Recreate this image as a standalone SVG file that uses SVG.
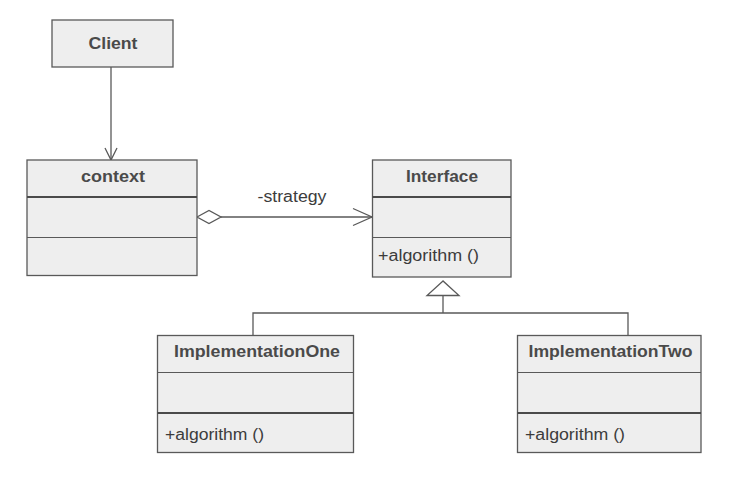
<svg xmlns="http://www.w3.org/2000/svg" width="737" height="478" viewBox="0 0 737 478">
<defs>
<style>
.box{fill:#eeeeee;stroke:#595959;stroke-width:1.3}
.thin{stroke:#595959;stroke-width:1.2}
.thick{stroke:#4a4a4a;stroke-width:2}
.hdr{font-family:"Liberation Sans",Arial,sans-serif;font-weight:bold;font-size:16px;fill:#4a4a4a;text-anchor:middle}
.op{font-family:"Liberation Sans",Arial,sans-serif;font-size:16px;fill:#3c3c3c}
.lbl{font-family:"Liberation Sans",Arial,sans-serif;font-size:16px;fill:#3c3c3c;text-anchor:middle}
.ln{fill:none;stroke:#595959;stroke-width:1.3}
</style>
</defs>
<rect width="737" height="478" fill="#ffffff"/>
<g id="connectors">
<line class="ln" x1="111" y1="67" x2="111" y2="160"/>
<polyline class="ln" points="105,148 111,160 117,148"/>
<line class="ln" x1="221" y1="217" x2="372" y2="217"/>
<polygon points="197,217 209,210.5 221,217 209,223.5" fill="#ffffff" stroke="#595959" stroke-width="1.3"/>
<polyline class="ln" points="353,208.5 372,217 353,225.5"/>
<text class="lbl" x="292" y="202" textLength="69" lengthAdjust="spacingAndGlyphs">-strategy</text>
<polygon points="443,281 427,295.5 459,295.5" fill="#ffffff" stroke="#595959" stroke-width="1.3"/>
<polyline class="ln" points="443,295.5 443,313"/>
<polyline class="ln" points="253,336 253,313 628,313 628,336"/>
</g>
<g id="client">
<rect class="box" x="52" y="20" width="121" height="47"/>
<text class="hdr" x="113" y="49" textLength="49" lengthAdjust="spacingAndGlyphs">Client</text>
</g>
<g id="context">
<rect class="box" x="27" y="160" width="170" height="115.5"/>
<line class="thick" x1="27" y1="197" x2="197" y2="197"/>
<line class="thin" x1="27" y1="237.5" x2="197" y2="237.5"/>
<text class="hdr" x="113" y="182" textLength="64" lengthAdjust="spacingAndGlyphs">context</text>
</g>
<g id="interface">
<rect class="box" x="372.5" y="160" width="138.5" height="117"/>
<line class="thick" x1="372.5" y1="197" x2="511" y2="197"/>
<line class="thin" x1="372.5" y1="237.5" x2="511" y2="237.5"/>
<text class="hdr" x="442" y="182" textLength="72" lengthAdjust="spacingAndGlyphs">Interface</text>
<text class="op" x="378" y="261" textLength="101" lengthAdjust="spacingAndGlyphs">+algorithm ()</text>
</g>
<g id="implementationOne">
<rect class="box" x="157.5" y="335.5" width="196" height="117"/>
<line class="thin" x1="157.5" y1="372.5" x2="353.5" y2="372.5"/>
<line class="thick" x1="157.5" y1="413" x2="353.5" y2="413"/>
<text class="hdr" x="257" y="357" textLength="166" lengthAdjust="spacingAndGlyphs">ImplementationOne</text>
<text class="op" x="165" y="440" textLength="99" lengthAdjust="spacingAndGlyphs">+algorithm ()</text>
</g>
<g id="implementationTwo">
<rect class="box" x="517.5" y="335.5" width="183.5" height="117"/>
<line class="thin" x1="517.5" y1="372.5" x2="701" y2="372.5"/>
<line class="thick" x1="517.5" y1="413" x2="701" y2="413"/>
<text class="hdr" x="610.5" y="357" textLength="164" lengthAdjust="spacingAndGlyphs">ImplementationTwo</text>
<text class="op" x="525" y="440" textLength="100" lengthAdjust="spacingAndGlyphs">+algorithm ()</text>
</g>
</svg>
